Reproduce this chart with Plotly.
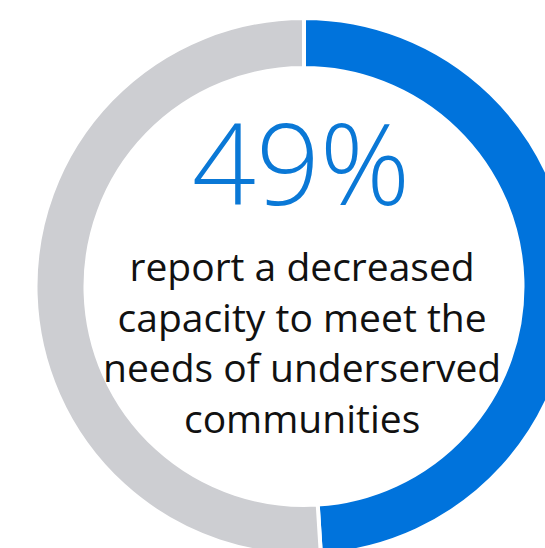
import plotly.graph_objects as go

# Data
categories = ["Decreased capacity", "Other"]
values = [49, 51]
headline = "49%"
label_lines = ["report a decreased", "capacity to meet the", "needs of underserved", "communities"]

W, H = 608, 573
cx, cy, R = 304, 286.5, 268.5

fig = go.Figure(go.Pie(
    labels=categories,
    values=values,
    hole=0.8138,
    sort=False,
    direction="clockwise",
    rotation=0,
    textinfo="none",
    hoverinfo="label+percent",
    marker=dict(colors=["#0073dc", "#cdced2"], line=dict(color="white", width=4)),
    domain=dict(x=[(cx - R) / W, (cx + R) / W], y=[(H - (cy + R)) / H, (H - (cy - R)) / H]),
    showlegend=False,
))

anns = [
    dict(text=headline, x=301 / W, y=1 - 162 / H, xref="paper", yref="paper",
         xanchor="center", yanchor="middle", showarrow=False,
         font=dict(family="Open Sans", size=112, color="#0a78d6", weight=300)),
    dict(text="<br>".join(label_lines), x=302 / W, y=1 - 341 / H, xref="paper", yref="paper",
         xanchor="center", yanchor="middle", showarrow=False, align="center",
         font=dict(family="Open Sans", size=39, color="#111111")),
]

fig.update_layout(width=W, height=H, autosize=False, margin=dict(l=0, r=0, t=0, b=0),
                  paper_bgcolor="white", plot_bgcolor="white", annotations=anns)
fig.write_html("out.html")
